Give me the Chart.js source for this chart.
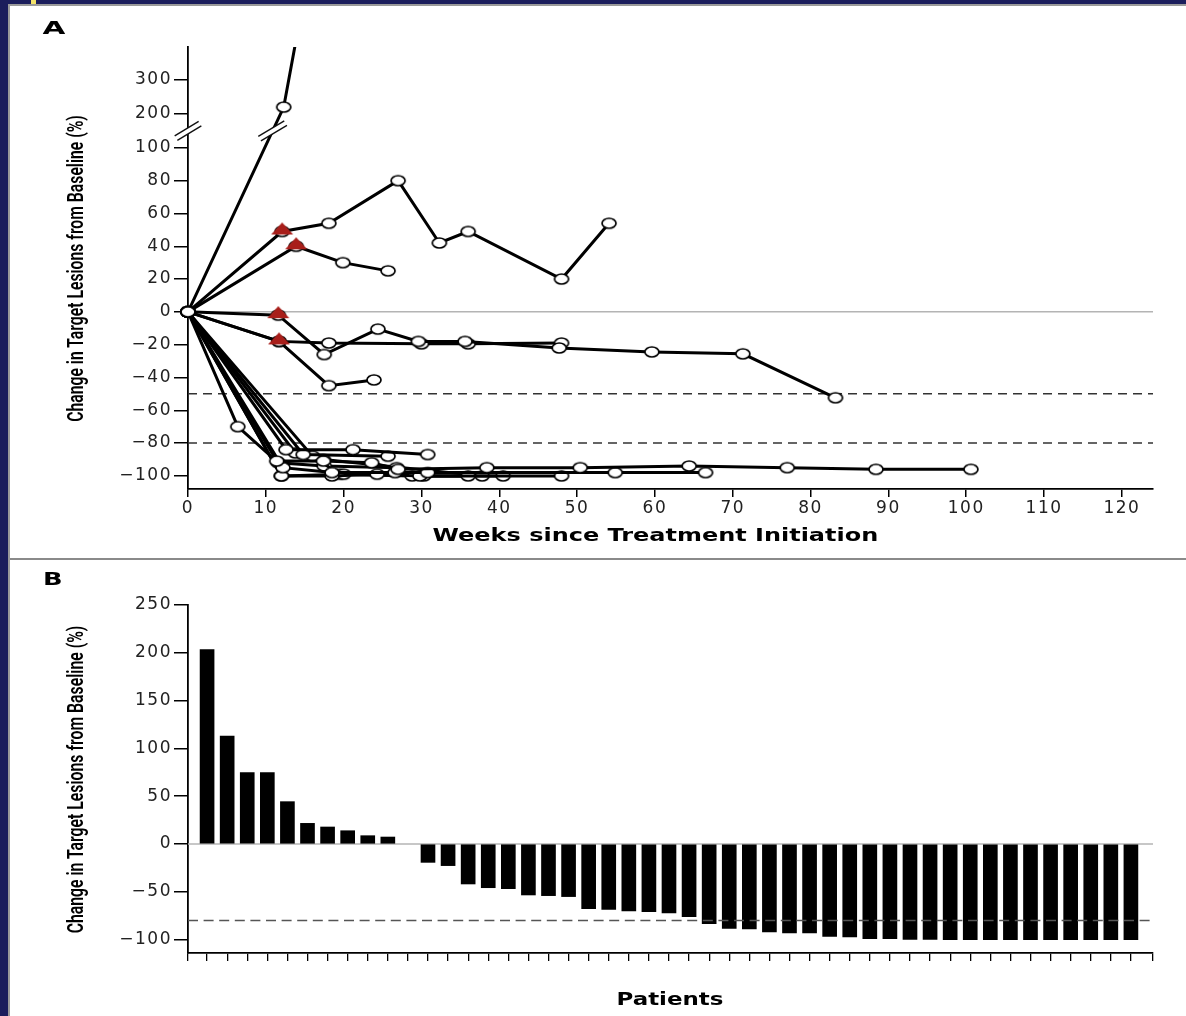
<!DOCTYPE html>
<html>
<head>
<meta charset="utf-8">
<script src="https://cdn.jsdelivr.net/npm/chart.js@4.4.1/dist/chart.umd.min.js"></script>
<style>
  html, body { margin: 0; padding: 0; }
  body { width: 1186px; height: 1016px; background: #1b1d5c; position: relative; overflow: hidden; }
  #sheet { position: absolute; left: 8px; top: 4px; width: 1178px; height: 1012px; background: #fff;
           border-left: 2px solid #9a9a9a; border-top: 2px solid #9a9a9a; box-sizing: border-box; }
  #divider { position: absolute; left: 10px; top: 558px; width: 1176px; height: 2px; background: #8a8a8a; }
  #tag { position: absolute; left: 31px; top: 0; width: 5px; height: 4px; background: #f3e36a; }
  canvas { position: absolute; left: 0; }
  #chartA { top: 0; }
  #chartB { top: 562px; }
  .ttl { position: absolute; white-space: nowrap; line-height: 1; color: #000; transform-origin: 50% 50%; }
  .yt { font: 600 22px Roboto, sans-serif; }
  .bold { font: bold 18px "DejaVu Sans", sans-serif; }
</style>
</head>
<body>
<div id="sheet"></div>
<div id="divider"></div>
<div id="tag"></div>
<canvas id="chartA" width="1186" height="556"></canvas>
<canvas id="chartB" width="1186" height="454"></canvas>
<div class="ttl bold" id="lblA">A</div>
<div class="ttl bold" id="lblB">B</div>
<div class="ttl yt" id="yTitleA">Change in Target Lesions from Baseline (%)</div>
<div class="ttl yt" id="yTitleB">Change in Target Lesions from Baseline (%)</div>
<div class="ttl bold" id="xTitleA">Weeks since Treatment Initiation</div>
<div class="ttl bold" id="xTitleB">Patients</div>
<script>
// ---- panel A: [week, % change] per patient ----
const ptSteep   = [[0, 0], [12.3, 220], [18, 930]];
const ptRise1   = [[0, 0], [12.1, 49], [18.1, 54], [27, 80], [32.3, 42], [36, 49], [48, 20], [54.1, 54]];
const ptRise2   = [[0, 0], [13.9, 40], [19.9, 30], [25.7, 25]];
const ptStable1 = [[0, 0], [11.6, -2], [17.5, -26], [24.4, -10.5], [29.6, -18], [35.6, -18], [47.7, -22], [59.6, -24.4], [71.3, -25.6], [83.2, -52.4]];
const ptStable2 = [[0, 0], [11.7, -18], [18.1, -19], [30, -19.5], [36, -19.5], [48, -19]];
const ptStable3 = [[0, 0], [11.7, -18], [18.1, -45], [23.9, -41.5]];
const ptResp1 = [[0, 0], [12.6, -84], [21.2, -84], [30.8, -87]];
const ptResp2 = [[0, 0], [14.8, -87], [25.7, -88]];
const ptResp3 = [[0, 0], [11.4, -91], [17.4, -91], [23.6, -92], [27, -96], [38.4, -95], [50.4, -95], [64.4, -94], [77, -95], [88.4, -96], [100.6, -96]];
const ptResp4 = [[0, 0], [12.2, -95], [18.5, -98], [26.6, -98], [30.8, -98], [54.9, -98], [66.5, -98]];
const ptResp5 = [[0, 0], [12, -100], [18.5, -100], [24.3, -99], [29.8, -100], [48, -100]];
const ptResp6 = [[0, 0], [12, -100], [20, -99], [28.8, -100], [36, -100]];
const ptResp7 = [[0, 0], [16, -88], [19.5, -99], [30.3, -100], [40.5, -100]];
const ptResp8 = [[0, 0], [6.4, -70], [11.6, -92], [17.5, -94], [26.8, -95]];
const ptResp9 = [[0, 0], [13.8, -86], [17.4, -90], [37.8, -100]];
const newLesion = [[12.1, 49], [13.9, 40], [11.6, -2], [11.7, -18]];

const weekTicks = [0, 10, 20, 30, 40, 50, 60, 70, 80, 90, 100, 110, 120];
const pctTicksA = [-100, -80, -60, -40, -20, 0, 20, 40, 60, 80, 100, 200, 300];
const cutoffsA = [-50, -80];

// ---- panel B: best % change per patient ----
const patientChange = [203.5, 113, 74.6, 74.6, 44.3, 21.6, 17.8, 13.9, 8.7, 7.3, 0,
  -19.2, -22.6, -41.8, -45.7, -46.7, -53.3, -54, -55, -67.6, -68.3, -70, -70.8, -72.2, -76,
  -83.3, -88.2, -88.9, -92, -93.1, -93.1, -96.6, -97.3, -99, -99, -99.7, -99.7,
  -100, -100, -100, -100, -100, -100, -100, -100, -100, -100];
const pctTicksB = [-100, -50, 0, 50, 100, 150, 200, 250];
const cutoffsB = [-80];

// broken y axis in A: above 100 the scale is compressed
const BREAK_AT = 100, ABOVE = 0.207, breakValue = 150;
const yT = v => v <= BREAK_AT ? v : BREAK_AT + (v - BREAK_AT) * ABOVE;
const fmt = v => v < 0 ? '\u2212' + Math.abs(v) : String(v);

function ovalMarker() {
  const c = document.createElement('canvas'); c.width = 18; c.height = 14;
  const g = c.getContext('2d');
  g.beginPath(); g.ellipse(9, 7, 7, 5, 0, 0, Math.PI * 2);
  g.fillStyle = '#fff'; g.fill(); g.lineWidth = 1.7; g.strokeStyle = '#000'; g.stroke();
  return c;
}
function triMarker() {
  const c = document.createElement('canvas'); c.width = 24; c.height = 20;
  const g = c.getContext('2d');
  g.beginPath(); g.moveTo(1, 13); g.lineTo(23, 13); g.lineTo(12, 1); g.closePath();
  g.fillStyle = '#a81e1a'; g.fill();
  return c;
}
const oval = ovalMarker(), tri = triMarker();

const spacing = {
  id: 'spacing',
  beforeDraw(chart) { chart.ctx.letterSpacing = '1.5px'; },
  afterDraw(chart) { chart.ctx.letterSpacing = '0px'; }
};

function hLines(chart, zeroVal, cuts, dash, color) {
  const { ctx, chartArea: a, scales: { y } } = chart;
  ctx.save();
  ctx.lineWidth = 1.5;
  if (zeroVal !== null) {
    const y0 = y.getPixelForValue(zeroVal);
    ctx.strokeStyle = '#b4b4b4';
    ctx.beginPath(); ctx.moveTo(a.left, y0); ctx.lineTo(a.right, y0); ctx.stroke();
  }
  ctx.strokeStyle = color; ctx.setLineDash(dash);
  cuts.forEach(v => {
    const yy = y.getPixelForValue(v);
    ctx.beginPath(); ctx.moveTo(a.left, yy); ctx.lineTo(a.right, yy); ctx.stroke();
  });
  ctx.restore();
}

function slash(ctx, cx, cy, half) {
  const dx = half, dy = -half * 0.6;
  const len = Math.hypot(dx, dy);
  const nx = -dy / len * 2.6, ny = dx / len * 2.6;
  ctx.save();
  ctx.fillStyle = '#fff';
  ctx.beginPath();
  ctx.moveTo(cx - dx + nx, cy - dy + ny); ctx.lineTo(cx + dx + nx, cy + dy + ny);
  ctx.lineTo(cx + dx - nx, cy + dy - ny); ctx.lineTo(cx - dx - nx, cy - dy - ny);
  ctx.closePath(); ctx.fill();
  ctx.strokeStyle = '#111'; ctx.lineWidth = 1.4;
  [1, -1].forEach(s => {
    ctx.beginPath(); ctx.moveTo(cx - dx + s * nx, cy - dy + s * ny); ctx.lineTo(cx + dx + s * nx, cy + dy + s * ny); ctx.stroke();
  });
  ctx.restore();
}

const linesA = {
  id: 'linesA',
  beforeDatasetsDraw(chart) { hLines(chart, yT(0), cutoffsA.map(yT), [9, 6], '#333'); },
  afterDatasetsDraw(chart) {
    const { ctx, chartArea: a, scales: { x, y } } = chart;
    const yb = y.getPixelForValue(yT(breakValue));
    slash(ctx, a.left, yb, 12);
    const x0 = x.getPixelForValue(ptSteep[0][0]), y0 = y.getPixelForValue(yT(ptSteep[0][1]));
    const x1 = x.getPixelForValue(ptSteep[1][0]), y1 = y.getPixelForValue(yT(ptSteep[1][1]));
    slash(ctx, x0 + (x1 - x0) * (yb - y0) / (y1 - y0), yb, 13);
  }
};

const linesB = {
  id: 'linesB',
  beforeDatasetsDraw(chart) { hLines(chart, 0, [], [], '#000'); },
  afterDatasetsDraw(chart) { hLines(chart, null, cutoffsB, [10, 5.6], '#555'); }
};

const tickFont = { family: '"DejaVu Sans", sans-serif', size: 17 };
const axisGrid = len => ({ drawOnChartArea: false, drawTicks: true, tickLength: len, color: '#000', lineWidth: 1.5 });
const axisBorder = { color: '#000', width: 1.8 };

const patients = [ptSteep, ptRise1, ptRise2, ptStable1, ptStable2, ptStable3,
  ptResp1, ptResp2, ptResp3, ptResp4, ptResp5, ptResp6, ptResp7, ptResp8, ptResp9];

new Chart(document.getElementById('chartA'), {
  type: 'scatter',
  data: {
    datasets: [
      {
        data: newLesion.map(([w, v]) => ({ x: w, y: yT(v) })),
        pointStyle: tri, pointRadius: 5, showLine: false, order: -1,
        clip: { left: 10, top: 0, right: 10, bottom: 10 },
      },
      ...patients.map(p => ({
        data: p.map(([w, v]) => ({ x: w, y: yT(v) })),
        showLine: true, borderColor: '#000', borderWidth: 3, tension: 0,
        pointStyle: oval, pointRadius: 5,
        clip: { left: 10, top: 0, right: 10, bottom: 10 },
      })),
    ],
  },
  options: {
    responsive: false,
    animation: false,
    layout: { padding: { left: 0, right: 33, top: 47, bottom: 0 } },
    plugins: { legend: { display: false }, tooltip: { enabled: false } },
    scales: {
      x: {
        type: 'linear', min: 0, max: 124,
        afterFit: s => { s.height = 67; },
        afterBuildTicks: s => { s.ticks = weekTicks.map(v => ({ value: v })); },
        ticks: { font: tickFont, color: '#222', padding: 1, maxRotation: 0, autoSkip: false },
        grid: axisGrid(8), border: axisBorder,
      },
      y: {
        min: yT(-108), max: yT(397),
        afterFit: s => { s.width = 188; },
        afterBuildTicks: s => { s.ticks = pctTicksA.map(v => ({ value: yT(v) })); },
        ticks: { font: tickFont, color: '#222', padding: 2, autoSkip: false, callback: (v, i) => fmt(pctTicksA[i]) },
        grid: axisGrid(14), border: axisBorder,
      },
    },
  },
  plugins: [spacing, linesA],
});

new Chart(document.getElementById('chartB'), {
  type: 'bar',
  data: {
    datasets: [{
      data: patientChange.map((v, i) => ({ x: i + 1, y: v })),
      backgroundColor: c => (c.raw && c.raw.y === 0) ? 'rgba(0,0,0,0)' : '#000',
      borderWidth: 0, barThickness: 14,
    }],
  },
  options: {
    responsive: false,
    animation: false,
    layout: { padding: { left: 0, right: 33, top: 43, bottom: 0 } },
    plugins: { legend: { display: false }, tooltip: { enabled: false } },
    scales: {
      x: {
        type: 'linear', min: 0.05, max: 48.1, offset: false,
        afterFit: s => { s.height = 63; },
        afterBuildTicks: s => { s.ticks = [0.05, ...patientChange.map((v, i) => i + 1), 48.1].map(v => ({ value: v })); },
        ticks: { display: false },
        grid: { ...axisGrid(8), offset: false, lineWidth: 1.3 }, border: axisBorder,
      },
      y: {
        min: -114, max: 250,
        afterFit: s => { s.width = 188; },
        afterBuildTicks: s => { s.ticks = pctTicksB.map(v => ({ value: v })); },
        ticks: { font: tickFont, color: '#222', padding: 2, autoSkip: false, callback: (v, i) => fmt(pctTicksB[i]) },
        grid: axisGrid(14), border: axisBorder,
      },
    },
  },
  plugins: [spacing, linesB],
});

// place the HTML titles: centre, length along the text, rotation
function place(id, cx, cy, len, rotate) {
  const el = document.getElementById(id);
  const w = el.offsetWidth, h = el.offsetHeight;
  el.style.left = (cx - w / 2) + 'px';
  el.style.top = (cy - h / 2) + 'px';
  el.style.transform = (rotate ? 'rotate(-90deg) ' : '') + 'scaleX(' + (len / w) + ')';
}
place('lblA', 53.5, 27.5, 23, false);
place('lblB', 53, 578, 20, false);
place('yTitleA', 75, 268.5, 307, true);
place('yTitleB', 75, 779, 308, true);
place('xTitleA', 655, 534.5, 446, false);
place('xTitleB', 670, 998.5, 107, false);
</script>
</body>
</html>
